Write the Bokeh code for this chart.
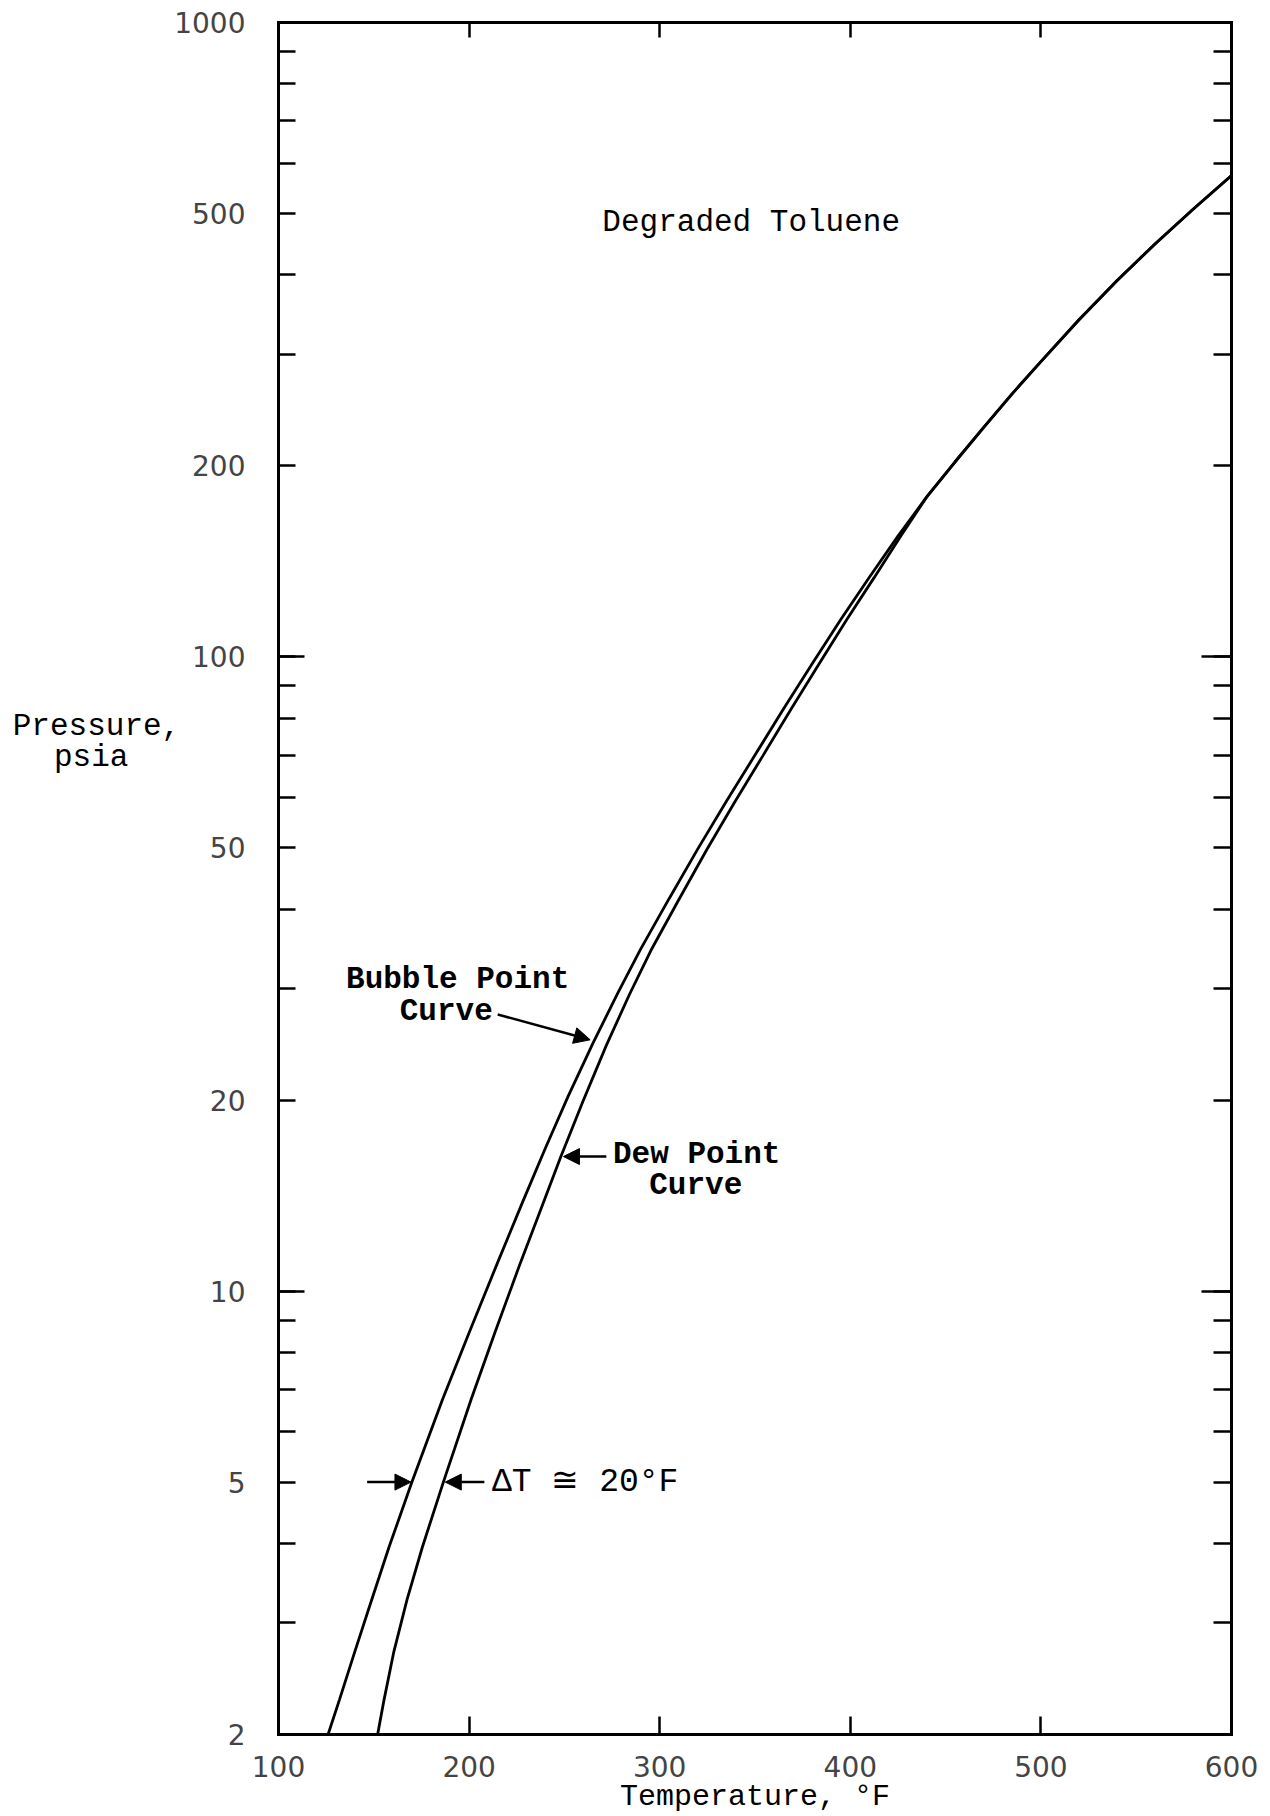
import math
from bokeh.plotting import figure
from bokeh.models import (Range1d, FixedTicker, NumeralTickFormatter, LinearAxis, LogAxis,
                          Label, Arrow, NormalHead, CustomJSTickFormatter)
from bokeh.embed import file_html
from bokeh.resources import INLINE

# ---------------- data ----------------
bubble_T = [126, 132, 140, 148, 158, 170, 186, 200, 215, 228, 240, 252, 265, 278, 290,
            305, 320, 335, 350, 365, 380, 395, 410, 425, 440, 455, 470, 485, 500,
            520, 540, 560, 580, 600]
bubble_P = [2.0, 2.27, 2.7, 3.2, 3.95, 5.0, 6.74, 8.6, 11.1, 13.8, 16.8, 20.3, 24.6, 29.5, 34.6,
            41.6, 49.8, 59.2, 70, 82.8, 97.5, 114.5, 133.5, 155, 178.5, 203, 230, 260, 292,
            340, 392, 448, 508, 574]

dew_T = [152, 155.4, 160.5, 167.4, 175.5, 186.5, 201, 213.5, 227, 239, 247.8, 259.7, 272, 284, 295.3,
         310, 324.6, 339.3, 354.1, 368.8, 383.5, 398, 412.5, 426.5, 440, 455, 470, 485, 500,
         520, 540, 560, 580, 600]
dew_P = [2.0, 2.27, 2.7, 3.26, 3.95, 5.0, 6.74, 8.6, 11.1, 13.8, 16.2, 19.9, 24.4, 29.3, 34.4,
         41.4, 49.6, 59.0, 69.8, 82.6, 97.3, 114.3, 133.3, 155, 178.5, 203, 230, 260, 292,
         340, 392, 448, 508, 574]

x_ticks = [100, 200, 300, 400, 500, 600]
top_ticks = [200, 300, 400, 500]
y_major = [2, 5, 10, 20, 50, 100, 200, 500, 1000]
y_minor = [3, 4, 6, 7, 8, 9, 30, 40, 60, 70, 80, 90, 300, 400, 600, 700, 800, 900]
y_decades = [10, 100, 1000]

MONO = "Liberation Mono"
SANS = "DejaVu Sans"

# ---------------- layout (pixels) ----------------
FW, FH = 1264, 1816           # frame fills the whole figure
X100, PX_PER_T = 278, 953 / 500
Y1000, DEC = 22, 1712 / math.log10(500)

x_start = 100 - X100 / PX_PER_T
x_end = 100 + (FW - X100) / PX_PER_T
y_end = 10 ** (3 + Y1000 / DEC)
y_start = 10 ** (3 - (FH - Y1000) / DEC)

p = figure(frame_width=FW, frame_height=FH,
           x_range=Range1d(x_start, x_end), y_range=Range1d(y_start, y_end),
           y_axis_type="log", output_backend="svg", toolbar_location=None,
           min_border_left=0, min_border_top=0, min_border_right=0, min_border_bottom=0)
p.grid.visible = False
p.background_fill_color = "white"
p.border_fill_color = "white"
p.outline_line_color = None

blank = CustomJSTickFormatter(code="return ''")

def style_axis(ax, tick_len, minor=False, line=True):
    ax.major_tick_in = tick_len
    ax.major_tick_out = 0
    ax.major_tick_line_width = 2.5
    if minor:
        ax.minor_tick_in = tick_len
        ax.minor_tick_out = 0
        ax.minor_tick_line_width = 2.5
    else:
        ax.minor_tick_line_color = None
    if line:
        ax.axis_line_width = 3
        ax.axis_line_cap = "square"
    else:
        ax.axis_line_color = None

# bottom axis at P = 2
xa = p.xaxis[0]
xa.fixed_location = 2
xa.bounds = (100, 600)
xa.ticker = FixedTicker(ticks=x_ticks)
style_axis(xa, 18)
xa.major_label_text_font = SANS
xa.major_label_text_font_size = "28px"
xa.major_label_standoff = 21

# left axis at T = 100
ya = p.yaxis[0]
ya.fixed_location = 100
ya.bounds = (2, 1000)
ya.ticker = FixedTicker(ticks=y_major, minor_ticks=y_minor)
ya.formatter = NumeralTickFormatter(format="0")
style_axis(ya, 17, minor=True)
ya.major_label_text_font = SANS
ya.major_label_text_font_size = "28px"
ya.major_label_standoff = 33

# top axis at P = 1000 (ticks only)
ta = LinearAxis(ticker=FixedTicker(ticks=top_ticks), formatter=blank,
                fixed_location=1000, bounds=(100, 600))
style_axis(ta, 15)
ta.major_label_standoff = 0
ta.major_label_text_font_size = "0px"
p.add_layout(ta, "above")

# right axis at T = 600 (ticks only)
ra = LogAxis(ticker=FixedTicker(ticks=y_major, minor_ticks=y_minor), formatter=blank,
             fixed_location=600, bounds=(2, 1000))
style_axis(ra, 18, minor=True)
ra.major_label_standoff = 0
ra.major_label_text_font_size = "0px"
p.add_layout(ra, "right")

# longer decade ticks on both sides
for loc, side, length in ((100, "left", 26), (600, "right", 30)):
    dax = LogAxis(ticker=FixedTicker(ticks=y_decades), formatter=blank,
                  fixed_location=loc, bounds=(2, 1000))
    style_axis(dax, length, line=False)
    dax.major_label_standoff = 0
    dax.major_label_text_font_size = "0px"
    p.add_layout(dax, side)

# curves
p.line(bubble_T, bubble_P, line_color="black", line_width=2.8)
p.line(dew_T, dew_P, line_color="black", line_width=2.8)

# texts
def lab(x, y, text, size="30px", style="normal", align="center", font=MONO):
    p.add_layout(Label(x=x, y=y, text=text, text_font=font, text_font_size=size,
                       text_font_style=style, text_align=align, text_baseline="middle",
                       text_color="black"))

def p_at(ypx):
    return 10 ** (3 - (ypx - Y1000) / DEC)

lab(348, 484, "Degraded Toluene", size="31px")
lab(4.5, 77.6, "Pressure,", size="31px")
lab(1.7, 69.3, "psia", size="31px")
lab(194, 31, "Bubble Point", size="31px", style="bold")
lab(188, 27.6, "Curve", size="31px", style="bold")
lab(275.5, 16.4, "Dew Point", size="31px", style="bold", align="left")
lab(294.5, 14.7, "Curve", size="31px", style="bold", align="left")
lab(212, 5.0, "ΔT ≅ 20°F", size="33px", align="left")
lab(350, p_at(1796), "Temperature, °F", size="30px")

def arrow(x0, y0, x1, y1):
    p.add_layout(Arrow(x_start=x0, y_start=y0, x_end=x1, y_end=y1,
                       line_color="black", line_width=2.5,
                       end=NormalHead(size=16, fill_color="black", line_color="black")))

arrow(215, 27.3, 263.5, 24.9)
arrow(272, 16.3, 249.5, 16.3)
arrow(146.5, 5.0, 169.5, 5.0)
arrow(208, 5.0, 187.5, 5.0)

open("out.html", "w").write(file_html(p, INLINE))
